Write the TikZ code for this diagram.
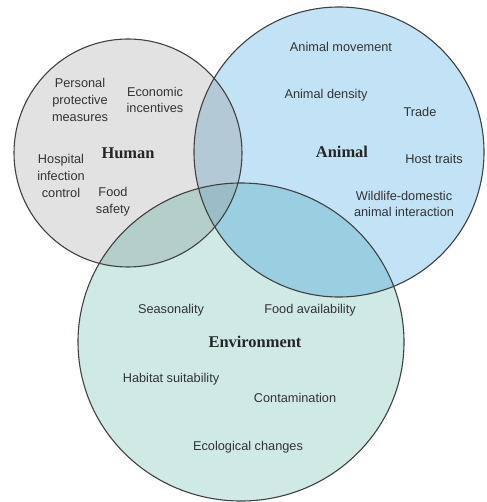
\documentclass[tikz,border=0pt]{standalone}
\usepackage{fontspec}
\setmainfont{Liberation Sans}
\newfontfamily\labfont{Liberation Serif}
\definecolor{humc}{HTML}{E2E2E2}
\definecolor{anic}{HTML}{C2E3F5}
\definecolor{envc}{HTML}{CFEAE5}
\definecolor{hac}{HTML}{B3C9D5}
\definecolor{hec}{HTML}{B4CFC9}
\definecolor{aec}{HTML}{99CFE0}
\definecolor{haec}{HTML}{9BBDC7}
\definecolor{txt}{HTML}{333333}
\tikzset{
  item/.style={font=\fontsize{12.8}{16.8}\selectfont, text=txt, align=center, inner sep=0pt},
  lab/.style={font=\labfont\bfseries\fontsize{16.5}{18}\selectfont, text=black!85, inner sep=0pt},
  ring/.style={draw=black!75, line width=1.1pt}
}
\begin{document}
\begin{tikzpicture}[x=1bp,y=-1bp]
\useasboundingbox (0,0) rectangle (487,502);
\coordinate (H) at (128,153);
\coordinate (A) at (339,152);
\coordinate (E) at (241,342);
\def\envshape{(E) ellipse [x radius=163, y radius=159]}
% fills
\fill[humc] (H) circle (114);
\fill[anic] (A) circle (145);
\fill[envc] \envshape;
\begin{scope}
  \clip (H) circle (114);
  \fill[hac] (A) circle (145);
  \fill[hec] \envshape;
  \clip (A) circle (145);
  \fill[haec] \envshape;
\end{scope}
\begin{scope}
  \clip (A) circle (145);
  \clip \envshape;
  \fill[aec] \envshape;
  \clip (H) circle (114);
  \fill[haec] (H) circle (114);
\end{scope}
% outlines
\draw[ring] (H) circle (114);
\draw[ring] (A) circle (145);
\draw[ring] \envshape;
% Human
\node[lab] (hum) at (128,153) {Human};
\node[item] (ppm) at (80,100) {Personal\\protective\\measures};
\node[item] (eco) at (155,100) {Economic\\incentives};
\node[item] (hic) at (61,176) {Hospital\\infection\\control};
\node[item] (fs) at (113,202) {Food\\safety};
% Animal
\node[lab] (ani) at (342,152) {Animal};
\node[item] (amv) at (341,47) {Animal movement};
\node[item] (ad) at (326,95) {Animal density};
\node[item] (tr) at (420,112) {Trade};
\node[item] (ht) at (434,159) {Host traits};
\node[item] (wd) at (404,204) {Wildlife-domestic\\animal interaction};
% Environment
\node[lab] (env) at (255,342) {Environment};
\node[item] (sea) at (171,310) {Seasonality};
\node[item] (fa) at (310,310) {Food availability};
\node[item] (hs) at (171,379) {Habitat suitability};
\node[item] (con) at (295,398) {Contamination};
\node[item] (ec) at (248,447) {Ecological changes};
\end{tikzpicture}
\end{document}
